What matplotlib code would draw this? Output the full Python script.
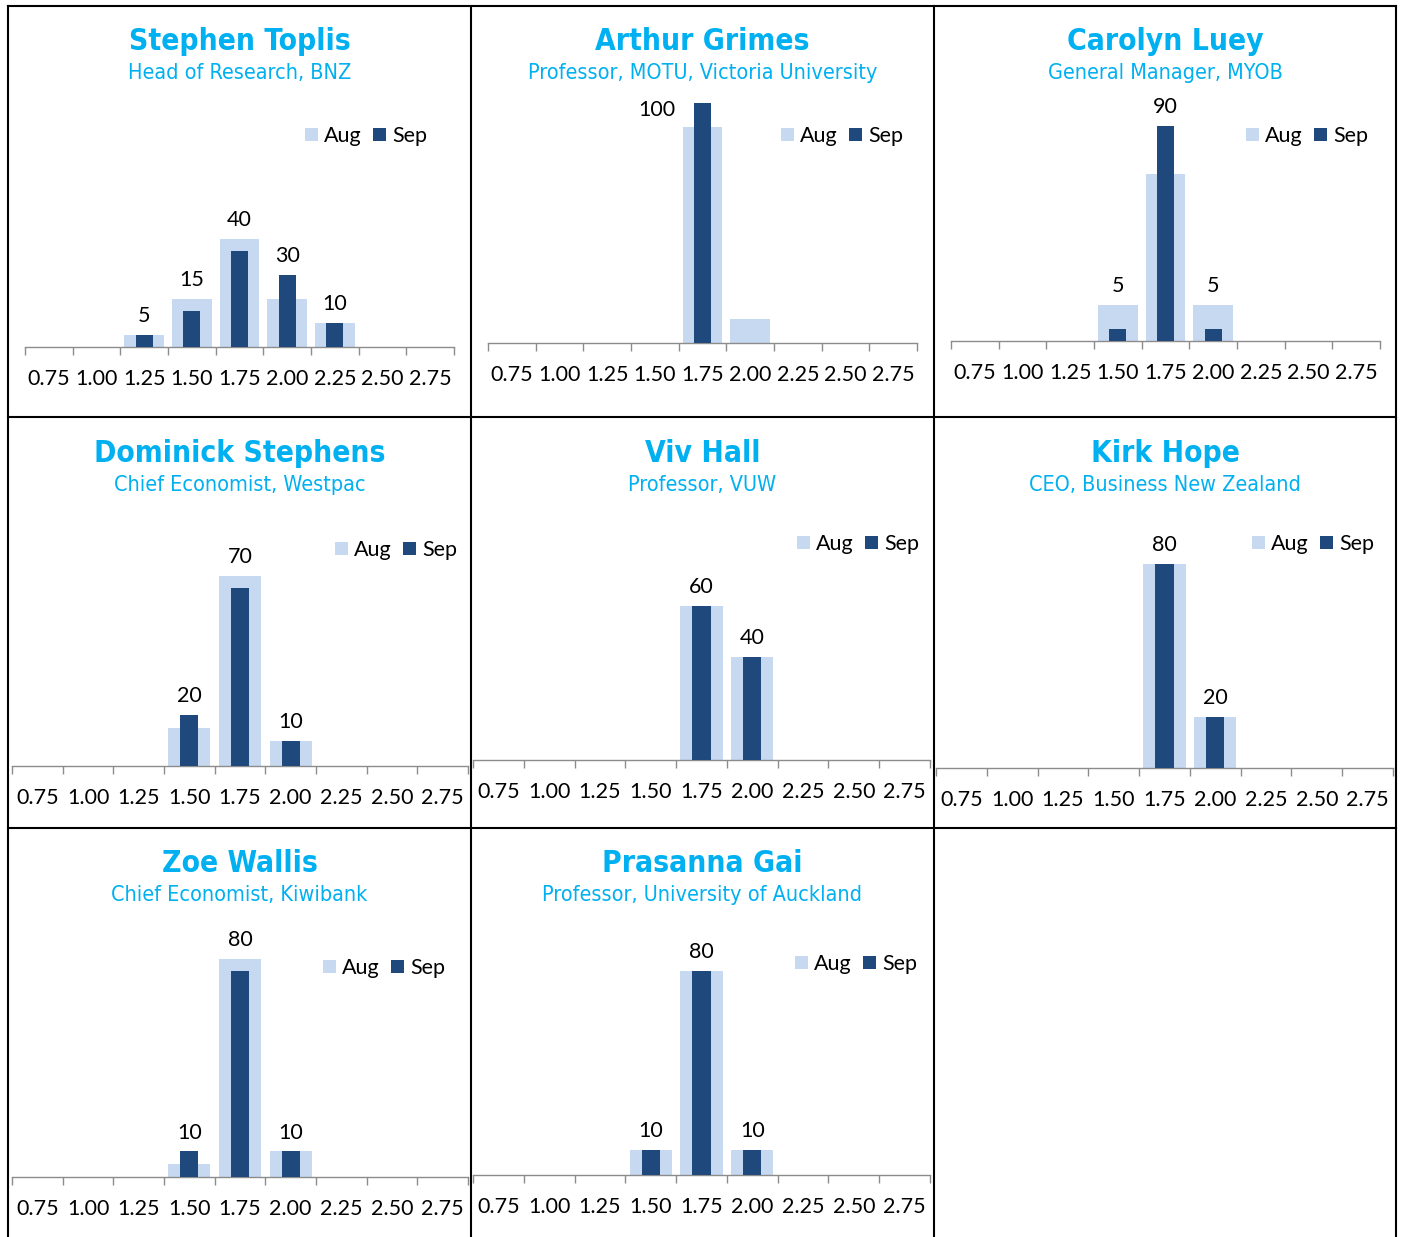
import matplotlib
matplotlib.use("Agg")
import matplotlib.pyplot as plt
from matplotlib.patches import Patch
from matplotlib.lines import Line2D

W, H = 1405, 1237

categories = ['0.75', '1.00', '1.25', '1.50', '1.75', '2.00', '2.25', '2.50', '2.75']

names = ['Stephen Toplis', 'Arthur Grimes', 'Carolyn Luey',
         'Dominick Stephens', 'Viv Hall', 'Kirk Hope',
         'Zoe Wallis', 'Prasanna Gai']
roles = ['Head of Research, BNZ', 'Professor, MOTU, Victoria University',
         'General Manager, MYOB', 'Chief Economist, Westpac',
         'Professor, VUW', 'CEO, Business New Zealand',
         'Chief Economist, Kiwibank', 'Professor, University of Auckland']

aug_stephen = [0, 0, 5, 20, 45, 20, 10, 0, 0]
aug_arthur = [0, 0, 0, 0, 90, 10, 0, 0, 0]
aug_carolyn = [0, 0, 0, 15, 70, 15, 0, 0, 0]
aug_dominick = [0, 0, 0, 15, 75, 10, 0, 0, 0]
aug_viv = [0, 0, 0, 0, 60, 40, 0, 0, 0]
aug_kirk = [0, 0, 0, 0, 80, 20, 0, 0, 0]
aug_zoe = [0, 0, 0, 5, 85, 10, 0, 0, 0]
aug_prasanna = [0, 0, 0, 10, 80, 10, 0, 0, 0]

sep_stephen = [0, 0, 5, 15, 40, 30, 10, 0, 0]
sep_arthur = [0, 0, 0, 0, 100, 0, 0, 0, 0]
sep_carolyn = [0, 0, 0, 5, 90, 5, 0, 0, 0]
sep_dominick = [0, 0, 0, 20, 70, 10, 0, 0, 0]
sep_viv = [0, 0, 0, 0, 60, 40, 0, 0, 0]
sep_kirk = [0, 0, 0, 0, 80, 20, 0, 0, 0]
sep_zoe = [0, 0, 0, 10, 80, 10, 0, 0, 0]
sep_prasanna = [0, 0, 0, 10, 80, 10, 0, 0, 0]

aug_all = [aug_stephen, aug_arthur, aug_carolyn, aug_dominick,
           aug_viv, aug_kirk, aug_zoe, aug_prasanna]
sep_all = [sep_stephen, sep_arthur, sep_carolyn, sep_dominick,
           sep_viv, sep_kirk, sep_zoe, sep_prasanna]

AUG_COL = '#C6D9F0'
SEP_COL = '#1F497D'
TITLE_COL = '#00B0F0'
AXIS_COL = '#8C8C8C'
TICK_FONT = 'Lato'
FS = 15.5

# layout in pixels: axis left, axis right, baseline, top(=100), title y, subtitle y,
# legend right x, legend y, cell centre x
layout = [
    (25, 454, 347, 107, 42, 73, 427, 136, 239.5),
    (488, 917, 343, 103, 42, 73, 903, 136, 702.5),
    (951, 1380, 341, 102, 42, 73, 1368, 136, 1165),
    (12, 468, 766, 512, 453, 485, 457, 550, 239.5),
    (473, 930, 760, 503, 453, 485, 919, 544, 702.5),
    (936, 1393, 768, 513, 453, 485, 1374, 544, 1165),
    (12, 468, 1177, 920, 863, 895, 445, 968, 239.5),
    (473, 930, 1175, 920, 863, 895, 917, 964, 702.5),
]

fig = plt.figure(figsize=(W / 100, H / 100), dpi=100)
fig.patch.set_facecolor('white')

x = list(range(len(categories)))

for k, (name, role, aug, sep) in enumerate(zip(names, roles, aug_all, sep_all)):
    left, right, base, top, ty, sy, lx, ly, cx = layout[k]
    ax = fig.add_axes([left / W, 1 - base / H, (right - left) / W, (base - top) / H])
    ax.bar(x, aug, width=0.83, color=AUG_COL, zorder=2)
    ax.bar(x, sep, width=0.36, color=SEP_COL, zorder=3)
    ax.set_xlim(-0.5, len(categories) - 0.5)
    ax.set_ylim(0, 100)
    ax.patch.set_alpha(0)
    for s in ['top', 'left', 'right']:
        ax.spines[s].set_visible(False)
    ax.spines['bottom'].set_color(AXIS_COL)
    ax.spines['bottom'].set_linewidth(1.0)
    ax.set_yticks([])
    ax.set_xticks(x)
    ax.set_xticklabels(categories, fontfamily=TICK_FONT, fontsize=FS)
    ax.tick_params(axis='x', which='major', length=0, pad=16)
    ax.set_xticks([i - 0.5 for i in range(len(categories) + 1)], minor=True)
    ax.tick_params(axis='x', which='minor', length=6, width=1.0, color=AXIS_COL, direction='out')

    for i, v in enumerate(sep):
        if v == 0:
            continue
        if v >= 100:
            ax.annotate(str(v), (i - 0.5, 97), textcoords='offset points', xytext=(-2, 0),
                        ha='right', va='center', fontfamily=TICK_FONT, fontsize=FS)
        else:
            ax.annotate(str(v), (i, max(v, aug[i])), textcoords='offset points', xytext=(0, 13.5),
                        ha='center', va='center', fontfamily=TICK_FONT, fontsize=FS)

    handles = [Patch(facecolor=AUG_COL, label='Aug'), Patch(facecolor=SEP_COL, label='Sep')]
    fig.legend(handles=handles, loc='center right', bbox_to_anchor=(lx / W, 1 - ly / H),
               ncol=2, frameon=False, borderpad=0, borderaxespad=0,
               handlelength=0.6, handleheight=0.6, handletextpad=0.3, columnspacing=0.5,
               prop={'family': TICK_FONT, 'size': FS})

    fig.text(cx / W, 1 - ty / H, name, ha='center', va='center', color=TITLE_COL,
             fontfamily='DejaVu Sans', fontstretch='condensed', fontweight='bold', fontsize=21.5)
    fig.text(cx / W, 1 - sy / H, role, ha='center', va='center', color=TITLE_COL,
             fontfamily='DejaVu Sans', fontstretch='condensed', fontsize=15.5)

# table borders
lw = 1.5
for xv in [8, 471, 934, 1396]:
    fig.add_artist(Line2D([xv / W, xv / W], [1 - 6 / H, 0], color='black', lw=lw))
for yv in [6, 417, 828]:
    fig.add_artist(Line2D([8 / W, 1396 / W], [1 - yv / H, 1 - yv / H], color='black', lw=lw))

fig.savefig('out.png', dpi=100)
